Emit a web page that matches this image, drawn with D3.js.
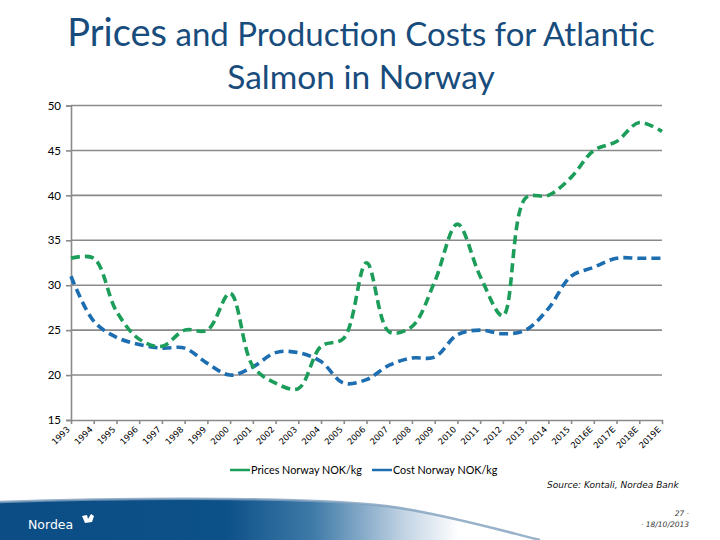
<!DOCTYPE html>
<html>
<head>
<meta charset="utf-8">
<script src="https://cdn.jsdelivr.net/npm/d3@7"></script>
<style>
  body { margin: 0; background: #fff; }
  svg { display: block; }
  text { font-family: Lato, "DejaVu Sans", sans-serif; }
</style>
</head>
<body>
<svg width="720" height="540"></svg>
<script>
// chart data
let years = ["1993","1994","1995","1996","1997","1998","1999","2000","2001","2002","2003","2004","2005",
             "2006","2007","2008","2009","2010","2011","2012","2013","2014","2015","2016E","2017E","2018E","2019E"];
let prices = [33, 33, 27.1, 24, 23.2, 25, 25, 29.1, 21, 19.1, 18.5, 23.2, 24.1,
              32.5, 24.8, 25.4, 30.4, 36.8, 31, 26.6, 39.7, 40, 42, 45, 46, 48.1, 47.1];
let costs = [31, 26, 24.2, 23.4, 23, 23, 21.3, 20, 20.9, 22.5, 22.5, 21.5, 19.1,
             19.5, 21.1, 21.9, 22, 24.5, 25, 24.6, 25, 27.4, 31, 32, 33, 33, 33];
let yTicks = [15, 20, 25, 30, 35, 40, 45, 50];

let greenColor = "#1c9d5a";
let blueColor = "#1d6eb1";
let gridColor = "#8a8a8a";

let svg = d3.select("svg");

// bottom banner (Nordea)
let defs = svg.append("defs");
let grad = defs.append("linearGradient").attr("id", "band")
    .attr("x1", "0").attr("x2", "1").attr("y1", "0").attr("y2", "0");
grad.append("stop").attr("offset", "0").attr("stop-color", "#0b4d84");
grad.append("stop").attr("offset", "0.42").attr("stop-color", "#0d5189");
grad.append("stop").attr("offset", "0.58").attr("stop-color", "#3f7aa8");
grad.append("stop").attr("offset", "0.75").attr("stop-color", "#c3d4e4");
grad.append("stop").attr("offset", "0.85").attr("stop-color", "#ffffff");

svg.append("path")
    .attr("d", "M0,502 C150,497 330,497 400,508 C450,516 500,530 540,540 L0,540 Z")
    .attr("fill", "url(#band)");
svg.append("path")
    .attr("d", "M0,502 C150,497 330,497 400,508 C450,516 500,530 540,540")
    .attr("fill", "none")
    .attr("stroke", "#7f9fbd")
    .attr("stroke-width", 2.5)
    .attr("opacity", 0.8);

svg.append("text")
    .attr("x", 28).attr("y", 529)
    .attr("fill", "#fff")
    .style("font-family", "'DejaVu Sans', sans-serif")
    .style("font-size", "12.5px")
    .text("Nordea");
svg.append("path")
    .attr("d", "M82,516 L87,515 L88,519 L91,514 L94,516 L92,522 L85,523 Z")
    .attr("fill", "#fff");

// title
let title = svg.append("g").attr("fill", "#184c7c");
let t1 = title.append("text")
    .attr("x", 361).attr("y", 46)
    .attr("text-anchor", "middle");
t1.append("tspan").style("font-size", "38px").text("Prices");
t1.append("tspan").style("font-size", "33px").text(" and Production Costs for Atlantic");
title.append("text")
    .attr("x", 361).attr("y", 89)
    .attr("text-anchor", "middle")
    .style("font-size", "33.5px")
    .text("Salmon in Norway");

// scales
let x = d3.scalePoint().domain(years).range([71, 662]);
let y = d3.scaleLinear().domain([15, 50]).range([420, 105.5]);

// gridlines
svg.append("g")
    .selectAll("line")
    .data(yTicks.slice(1))
    .enter()
    .append("line")
    .attr("x1", 71).attr("x2", 662)
    .attr("y1", d => y(d)).attr("y2", d => y(d))
    .attr("stroke", gridColor)
    .attr("stroke-width", 1.6);

// y axis
let yAxis = svg.append("g")
    .attr("transform", "translate(71,0)")
    .call(d3.axisLeft(y).tickValues(yTicks).tickSize(5).tickPadding(5));
yAxis.select(".domain").attr("stroke", gridColor).attr("stroke-width", 1.6);
yAxis.selectAll(".tick line").attr("stroke", gridColor).attr("stroke-width", 1.6);
yAxis.selectAll("text")
    .attr("fill", "#000")
    .style("font-family", "Lato, sans-serif")
    .style("font-size", "11.5px");

// x axis
let xAxis = svg.append("g")
    .attr("transform", "translate(0,420)")
    .call(d3.axisBottom(x).tickSize(4).tickSizeOuter(0).tickPadding(3));
xAxis.select(".domain").attr("stroke", gridColor).attr("stroke-width", 1.6);
xAxis.selectAll(".tick line").attr("stroke", gridColor).attr("stroke-width", 1.6);
xAxis.selectAll("text")
    .attr("fill", "#000")
    .attr("text-anchor", "end")
    .attr("dy", null)
    .attr("y", 0)
    .attr("transform", "translate(-1,10) rotate(-45)")
    .style("font-family", "'DejaVu Sans', sans-serif")
    .style("font-size", "8.5px");

// lines (smoothed like the spreadsheet's curves)
let line = d3.line()
    .x((d, i) => x(years[i]))
    .y(d => y(d))
    .curve(d3.curveCatmullRom.alpha(0.5));

svg.append("path")
    .datum(costs)
    .attr("d", line)
    .attr("fill", "none")
    .attr("stroke", blueColor)
    .attr("stroke-width", 3.6)
    .attr("stroke-dasharray", "9,5");

svg.append("path")
    .datum(prices)
    .attr("d", line)
    .attr("fill", "none")
    .attr("stroke", greenColor)
    .attr("stroke-width", 3.6)
    .attr("stroke-dasharray", "9,5");

// legend
let legend = [
  {name: "Prices Norway NOK/kg", color: greenColor, x: 230},
  {name: "Cost Norway NOK/kg", color: blueColor, x: 372}
];
let lg = svg.append("g").selectAll("g")
    .data(legend)
    .enter()
    .append("g")
    .attr("transform", d => `translate(${d.x},470)`);
lg.append("line")
    .attr("x1", 0).attr("x2", 20)
    .attr("stroke", d => d.color)
    .attr("stroke-width", 2.5);
lg.append("text")
    .attr("x", 21).attr("y", 4)
    .style("font-size", "10.8px")
    .attr("fill", "#000")
    .text(d => d.name);

// source + footer
svg.append("text")
    .attr("x", 547).attr("y", 488)
    .style("font-family", "'DejaVu Sans', sans-serif")
    .style("font-style", "italic")
    .style("font-size", "9px")
    .attr("fill", "#111")
    .text("Source: Kontali, Nordea Bank");
svg.append("text")
    .attr("x", 689).attr("y", 516)
    .attr("text-anchor", "end")
    .style("font-family", "'DejaVu Sans', sans-serif")
    .style("font-style", "italic")
    .style("font-size", "7.5px")
    .attr("fill", "#333")
    .text("27 ·");
svg.append("text")
    .attr("x", 689).attr("y", 527)
    .attr("text-anchor", "end")
    .style("font-family", "'DejaVu Sans', sans-serif")
    .style("font-style", "italic")
    .style("font-size", "7.5px")
    .attr("fill", "#333")
    .text("· 18/10/2013");
</script>
</body>
</html>
